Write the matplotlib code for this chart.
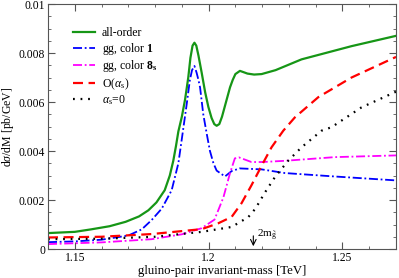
import matplotlib
matplotlib.use("Agg")
import matplotlib.pyplot as plt
from matplotlib.ticker import MultipleLocator, FixedLocator

plt.rcParams['font.family'] = ['Liberation Serif', 'DejaVu Serif']
plt.rcParams['mathtext.fontset'] = 'custom'
plt.rcParams['mathtext.rm'] = 'Liberation Serif'
plt.rcParams['mathtext.it'] = 'Liberation Serif:italic'
plt.rcParams['mathtext.bf'] = 'Liberation Serif:bold'

# all-order
m_all = [1.14, 1.15, 1.156, 1.163, 1.169, 1.174, 1.1775, 1.1805, 1.1836, 1.1855,
         1.1868, 1.1878, 1.1887, 1.19, 1.1912, 1.1924, 1.1932, 1.194, 1.1947,
         1.1954, 1.1962, 1.1974, 1.1987, 1.1999, 1.2011, 1.2021, 1.203, 1.204,
         1.205, 1.206, 1.207, 1.208, 1.209, 1.21, 1.2117, 1.213, 1.2145, 1.217,
         1.2198, 1.225, 1.2347, 1.2534, 1.27]
s_all = [0.00065, 0.0007, 0.0008, 0.00093, 0.00111, 0.00133, 0.00158, 0.0019,
         0.0024, 0.003, 0.0036, 0.0042, 0.0048, 0.0054, 0.0061, 0.007, 0.0078,
         0.0083, 0.00842, 0.0083, 0.0079, 0.0072, 0.0064, 0.0058, 0.00535,
         0.0051, 0.00503, 0.0051, 0.0054, 0.0058, 0.0062, 0.0066, 0.0069,
         0.00714, 0.00727, 0.00722, 0.00716, 0.00712, 0.00714, 0.0073, 0.00774,
         0.00828, 0.0087]

# gg, color 1
m_c1 = [1.14, 1.15, 1.16, 1.17, 1.175, 1.1787, 1.1825, 1.1862, 1.1887, 1.19,
        1.1918, 1.193, 1.1938, 1.1947, 1.1955, 1.1962, 1.1968, 1.198, 1.1993,
        1.2005, 1.2018, 1.203, 1.2061, 1.2086, 1.2116, 1.2198, 1.2285, 1.2471,
        1.27]
s_c1 = [0.00028, 0.00031, 0.00038, 0.00055, 0.0008, 0.00118, 0.00165, 0.0024,
        0.0035, 0.0045, 0.0059, 0.0069, 0.0073, 0.00747, 0.0072, 0.0069, 0.0066,
        0.0055, 0.0047, 0.004, 0.0035, 0.0032, 0.00296, 0.00318, 0.00329,
        0.00325, 0.0031, 0.00296, 0.0028]

# gg, color 8s
m_c8 = [1.14, 1.16, 1.1787, 1.19, 1.1974, 1.2022, 1.2055, 1.208, 1.2098, 1.2113,
        1.216, 1.22, 1.2285, 1.2471, 1.27]
s_c8 = [0.0002, 0.00027, 0.0004, 0.0006, 0.00085, 0.0012, 0.0021, 0.0031,
        0.0037, 0.00374, 0.00355, 0.00355, 0.0036, 0.00375, 0.00382]

# O(alpha_s)
m_o1 = [1.14, 1.16, 1.1787, 1.1974, 1.2036, 1.2086, 1.2123, 1.216, 1.2198,
        1.2235, 1.2279, 1.2322, 1.241, 1.2534, 1.27]
s_o1 = [0.00047, 0.0005, 0.00061, 0.00081, 0.00105, 0.00131, 0.00187, 0.0026,
        0.0034, 0.00415, 0.00483, 0.00537, 0.0062, 0.007, 0.00784]

# alpha_s = 0
m_o0 = [1.14, 1.16, 1.18, 1.1974, 1.2086, 1.2148, 1.2175, 1.221, 1.2248, 1.2297,
        1.2347, 1.2422, 1.2459, 1.2571, 1.27]
s_o0 = [0.0004, 0.00042, 0.0005, 0.0007, 0.0009, 0.0013, 0.00165, 0.0023,
        0.00294, 0.0036, 0.00415, 0.00483, 0.00497, 0.00578, 0.00642]

y_ticks = [0, 0.002, 0.004, 0.006, 0.008, 0.01]
y_labels = ["0", "0.002", "0.004", "0.006", "0.008", "0.01"]
x_ticks = [1.15, 1.2, 1.25]
x_labels = ["1.15", "1.2", "1.25"]
threshold = 1.2167

fig = plt.figure(figsize=(3.99, 2.78), dpi=100)
ax = fig.add_axes([0.1203, 0.1043, 0.8722, 0.8813])

ax.plot(m_all, s_all, color='#169616', lw=1.6, label='all-order')
ax.plot(m_c1, s_c1, color='#0000ff', lw=1.3, dashes=(5, 1.5, 1, 1.5),
        label=r'gg, color $\mathbf{1}$')
ax.plot(m_c8, s_c8, color='#ff00ff', lw=1.3, dashes=(5, 1.5, 1, 1.5),
        label=r'gg, color $\mathbf{8}_\mathbf{s}$')
ax.plot(m_o1, s_o1, color='#ff0000', lw=1.6, dashes=(4.5, 2.5),
        label=r'O($\alpha_\mathrm{s}$)')
ax.plot(m_o0, s_o0, color='black', lw=1.6, dashes=(0.8, 2.6),
        label=r'$\alpha_\mathrm{s}$=0')

ax.set_xlim(1.14, 1.27)
ax.set_ylim(0, 0.01)
ax.xaxis.set_major_locator(FixedLocator(x_ticks))
ax.set_xticklabels(x_labels)
ax.xaxis.set_minor_locator(MultipleLocator(0.01))
ax.yaxis.set_major_locator(FixedLocator(y_ticks))
ax.set_yticklabels(y_labels)
ax.yaxis.set_minor_locator(MultipleLocator(0.0005))
ax.tick_params(which='both', direction='in', top=True, right=True,
               labelsize=8.4, color='#555555', pad=2)
ax.tick_params(which='major', length=5)
ax.tick_params(which='minor', length=2.5)
for sp in ax.spines.values():
    sp.set_color('#555555')

ax.set_xlabel('gluino-pair invariant-mass [TeV]', fontsize=9.2, labelpad=1)
ax.set_ylabel(r'd$\sigma$/dM [pb/GeV]', fontsize=8.5)
ax.yaxis.set_label_coords(-0.093, 0.5)

ax.annotate('', xy=(threshold, 0), xytext=(threshold, 0.00065),
            arrowprops=dict(arrowstyle='->', color='black', lw=0.8))
ax.text(threshold + 0.0012, 0.00045, r'2m$_{\tilde{\mathrm{g}}}$', fontsize=8)

ax.legend(loc='upper left', bbox_to_anchor=(0.04, 0.95), frameon=False,
          fontsize=8.5, handlelength=1.9, labelspacing=0.15, handletextpad=0.6)

fig.savefig('out.png', dpi=100)
